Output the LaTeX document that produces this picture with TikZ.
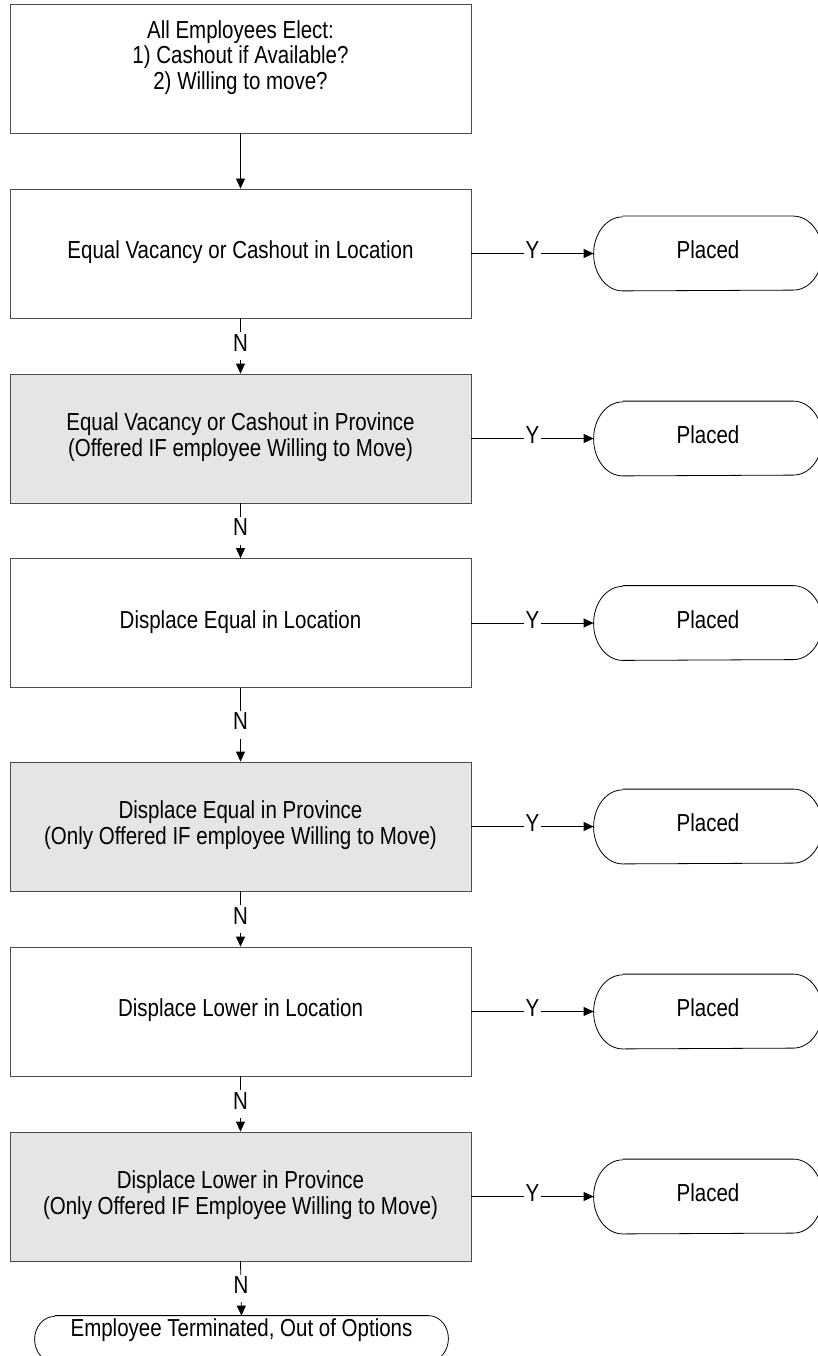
\documentclass[tikz,border=0pt]{standalone}
\usepackage{fontspec}
\setmainfont{Liberation Sans}
\usepackage{graphicx}
\usetikzlibrary{arrows.meta}

% text of the chart is set tall and narrow
\newcommand{\tall}[1]{\scalebox{1}[1.2]{\begin{tabular}{@{}c@{}}#1\end{tabular}}}

\begin{document}
\begin{tikzpicture}[
    x=1pt, y=-1pt,
    line width=0.8pt,
    every node/.style={font=\fontsize{20.5}{21.4}\selectfont, inner sep=0pt},
    stepbox/.style={draw=black!70, fill=white, minimum width=461pt, minimum height=129pt},
    shaded/.style={stepbox, fill=black!10},
    endnode/.style={minimum width=228pt, minimum height=74pt},
    flow/.style={-{Triangle[length=10pt,width=9pt]}},
    answer/.style={fill=white, inner xsep=2pt, inner ysep=1pt}
]
    \useasboundingbox (0,0) rectangle (817,1356);

    % --- MAIN COLUMN ---
    \node[stepbox] (elect) at (240.5,68.5)
        {\tall{All Employees Elect:\\1) Cashout if Available?\\2) Willing to move?\\[-5pt] ~}};
    \node[stepbox] (eqloc) at (240.5,253.5)
        {\tall{Equal Vacancy or Cashout in Location}};
    \node[shaded] (eqprov) at (240.5,438.5)
        {\tall{Equal Vacancy or Cashout in Province\\(Offered IF employee Willing to Move)}};
    \node[stepbox] (dispeqloc) at (240.5,623)
        {\tall{Displace Equal in Location}};
    \node[shaded] (dispeqprov) at (240.5,826.5)
        {\tall{Displace Equal in Province\\(Only Offered IF employee Willing to Move)}};
    \node[stepbox] (disploloc) at (240.5,1011.5)
        {\tall{Displace Lower in Location}};
    \node[shaded] (disploprov) at (240.5,1196.5)
        {\tall{Displace Lower in Province\\(Only Offered IF Employee Willing to Move)}};

    % Terminal at the bottom (cut by the page edge)
    \node[minimum width=413pt, minimum height=46pt] (term) at (241.5,1339) {};
    \node (termtext) at (241.5,1331) {\tall{Employee Terminated, Out of Options}};
    \draw ([xshift=20pt]term.north west) -- ([xshift=-20pt]term.north east)
        arc[start angle=90, end angle=-90, x radius=20pt, y radius=23pt]
        -- ([xshift=20pt]term.south west)
        arc[start angle=270, end angle=90, x radius=20pt, y radius=23pt];

    % --- PLACED OUTCOMES ---
    \node[endnode] (placedA) at (708,253.5) {\tall{Placed}};
    \node[endnode] (placedB) at (708,438.5) {\tall{Placed}};
    \node[endnode] (placedC) at (708,623) {\tall{Placed}};
    \node[endnode] (placedD) at (708,826.5) {\tall{Placed}};
    \node[endnode] (placedE) at (708,1011.5) {\tall{Placed}};
    \node[endnode] (placedF) at (708,1196.5) {\tall{Placed}};

    \foreach \p in {placedA,placedB,placedC,placedD,placedE,placedF}
        \draw ([xshift=29pt]\p.north west) -- ([xshift=-29pt]\p.north east)
            arc[start angle=90, end angle=-90, x radius=29pt, y radius=37pt]
            -- ([xshift=29pt]\p.south west)
            arc[start angle=270, end angle=90, x radius=29pt, y radius=37pt];

    % --- CONNECTORS ---
    \draw[flow] (elect) -- (eqloc);
    \draw[flow] (eqloc) -- node[answer] {\tall{N}} (eqprov);
    \draw[flow] (eqprov) -- node[answer] {\tall{N}} (dispeqloc);
    \draw[flow] (dispeqloc) -- node[answer] {\tall{N}} (dispeqprov);
    \draw[flow] (dispeqprov) -- node[answer] {\tall{N}} (disploloc);
    \draw[flow] (disploloc) -- node[answer] {\tall{N}} (disploprov);
    \draw[flow] (disploprov.south) -- node[answer] {\tall{N}} (term.north);

    \draw[flow] (eqloc) -- node[answer] {\tall{Y}} (placedA);
    \draw[flow] (eqprov) -- node[answer] {\tall{Y}} (placedB);
    \draw[flow] (dispeqloc) -- node[answer] {\tall{Y}} (placedC);
    \draw[flow] (dispeqprov) -- node[answer] {\tall{Y}} (placedD);
    \draw[flow] (disploloc) -- node[answer] {\tall{Y}} (placedE);
    \draw[flow] (disploprov) -- node[answer] {\tall{Y}} (placedF);

\end{tikzpicture}
\end{document}
